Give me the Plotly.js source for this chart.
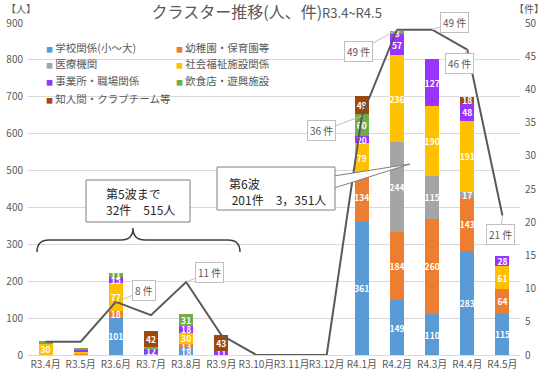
<!DOCTYPE html>
<html>
<head>
<meta charset="utf-8">
<script src="https://cdn.plot.ly/plotly-3.0.1.min.js"></script>
<style>html,body{margin:0;padding:0;background:#fff;}#chart{width:550px;height:381px;}</style>
</head>
<body>
<div id="chart"></div>
<script>
const categories = ['R3.4月','R3.5月','R3.6月','R3.7月','R3.8月','R3.9月','R3.10月','R3.11月','R3.12月','R4.1月','R4.2月','R4.3月','R4.4月','R4.5月'];
const seriesNames = ['学校関係(小～大)','幼稚園・保育園等','医療機関','社会福祉施設関係','事業所・職場関係','飲食店・遊興施設','知人間・クラブチーム等'];
const school  = [0,0,101,4,18,0,0,0,0,361,149,110,283,115];
const kinder  = [0,4,18,0,13,0,0,0,0,134,184,260,143,64];
const medical = [0,0,0,0,0,0,0,0,0,0,244,115,17,0];
const welfare = [30,4,77,0,30,0,0,0,0,79,236,190,191,61];
const office  = [0,5,15,12,18,11,0,0,0,20,57,127,48,28];
const food    = [7,6,11,7,31,0,0,0,0,60,8,0,0,0];
const friends = [0,0,0,42,0,43,0,0,0,49,0,0,18,0];
const cases   = [2,2,8,6,11,3,0,0,0,36,49,49,46,21];
const caseUnit = '件';
const wave5Text = '第5波まで<br>32件　515人';
const wave6Text = '第6波<br> 201件　3，351人';

const colors = ['#5B9BD5','#ED7D31','#A5A5A5','#FFC000','#9933FF','#70AD47','#9E480E'];
const seriesData = [school, kinder, medical, welfare, office, food, friends];
const FONT = '"Noto Sans CJK JP", "Noto Sans", sans-serif';
const GREY = '#595959';

const traces = seriesData.map((vals, i) => ({
  type: 'bar',
  name: seriesNames[i],
  x: categories,
  y: vals,
  marker: {color: colors[i]},
  text: vals.map(v => v >= 8 ? String(v) : ''),
  textposition: 'inside',
  insidetextanchor: 'middle',
  textangle: 0,
  constraintext: 'none',
  textfont: {color: '#ffffff', size: 8.5, family: FONT, weight: 700},
  showlegend: false,
  hoverinfo: 'skip'
}));
traces.push({
  type: 'scatter', mode: 'lines', x: categories, y: cases, yaxis: 'y2',
  line: {color: '#595959', width: 2}, showlegend: false, hoverinfo: 'skip'
});

// plot-area geometry (pixels) for paper conversions of decorations
const L = 28, R = 520, T = 23, B = 355;
const px = x => (x - L) / (R - L);
const py = y => (B - y) / (B - T);

const annotations = [];
// legend (two columns)
const legPos = [[44,47],[174,47],[44,64],[174,64],[44,81],[174,81],[44,98]];
seriesNames.forEach((n, i) => {
  annotations.push({
    xref: 'paper', yref: 'paper', x: px(legPos[i][0]), y: py(legPos[i][1]),
    xanchor: 'left', yanchor: 'middle', showarrow: false,
    text: '<span style="color:' + colors[i] + ';font-size:7px">■</span> ' + n,
    font: {size: 10.5, color: GREY, family: FONT}
  });
});
// unit labels
annotations.push({xref:'paper', yref:'paper', x: px(4), y: py(8), xanchor:'left', yanchor:'middle', showarrow:false, text:'【人】', font:{size:10,color:GREY,family:FONT}});
annotations.push({xref:'paper', yref:'paper', x: px(546), y: py(8), xanchor:'right', yanchor:'middle', showarrow:false, text:'【件】', font:{size:10,color:GREY,family:FONT}});

// line data labels
const labelOffsets = {2:[28,-11], 4:[23,-9], 9:[-40,15], 10:[-39,22], 11:[22,-7], 12:[-8,14], 13:[-2,19]};
Object.keys(labelOffsets).forEach(k => {
  const i = +k;
  annotations.push({
    xref: 'x', yref: 'y2', x: categories[i], y: cases[i],
    ax: labelOffsets[k][0], ay: labelOffsets[k][1],
    showarrow: true, arrowhead: 0, arrowwidth: 1, arrowcolor: '#BFBFBF', standoff: 0,
    text: cases[i] + ' ' + caseUnit, bgcolor: '#ffffff', bordercolor: '#BFBFBF', borderwidth: 1, borderpad: 2,
    font: {size: 10, color: GREY, family: FONT}
  });
});
// callout texts
annotations.push({xref:'paper', yref:'paper', x: px(104), y: py(201), xanchor:'left', yanchor:'middle', showarrow:false, align:'left', text: wave5Text, font:{size:12,color:'#262626',family:FONT}});
annotations.push({xref:'paper', yref:'paper', x: px(227), y: py(191), xanchor:'left', yanchor:'middle', showarrow:false, align:'left', text: wave6Text, font:{size:12,color:'#262626',family:FONT}});

const P = (x, y) => px(x).toFixed(4) + ',' + py(y).toFixed(4);
const shapes = [
  {type:'rect', xref:'paper', yref:'paper', x0: px(86), x1: px(190), y0: py(222), y1: py(180), line:{color:'#7F7F7F', width:1}, fillcolor:'#ffffff', layer:'above'},
  {type:'path', xref:'paper', yref:'paper', path: 'M' + P(334,176) + ' L' + P(410,164) + ' L' + P(334,188) + ' Z', line:{color:'#7F7F7F', width:1}, fillcolor:'#ffffff', layer:'above'},
  {type:'rect', xref:'paper', yref:'paper', x0: px(217), x1: px(335), y0: py(210), y1: py(167), line:{color:'#7F7F7F', width:1}, fillcolor:'#ffffff', layer:'above'},
  {type:'path', xref:'paper', yref:'paper', path: 'M' + P(37,252) + ' Q' + P(37,240) + ' ' + P(49,240) + ' L' + P(121,240) + ' Q' + P(133,240) + ' ' + P(133,228) + ' Q' + P(133,240) + ' ' + P(145,240) + ' L' + P(228,240) + ' Q' + P(240,240) + ' ' + P(240,252), line:{color:'#404040', width:1.5}, layer:'above'}
];

const layout = {
  width: 550, height: 381,
  margin: {l: L, r: 550 - R, t: T, b: 381 - B, pad: 0},
  paper_bgcolor: '#ffffff', plot_bgcolor: '#ffffff',
  font: {family: FONT, color: GREY},
  title: {text: 'クラスター推移(人、件)<span style="font-size:13px">R3.4~R4.5</span>', x: 0.485, xanchor: 'center', y: 1 - 12/381, yanchor: 'middle', font: {size: 16, color: GREY, family: FONT}},
  barmode: 'stack', bargap: 0.6,
  xaxis: {type: 'category', tickangle: 0, tickfont: {size: 10, color: GREY, family: FONT}, showline: true, linecolor: '#D9D9D9', ticks: '', showgrid: false},
  yaxis: {range: [0, 900], dtick: 100, gridcolor: '#D9D9D9', zeroline: false, tickfont: {size: 10, color: GREY, family: FONT}, ticks: '', ticklabelstandoff: 4},
  yaxis2: {range: [0, 50], dtick: 5, overlaying: 'y', side: 'right', showgrid: false, zeroline: false, tickfont: {size: 10, color: GREY, family: FONT}, ticks: '', ticklabelstandoff: 4},
  annotations: annotations,
  shapes: shapes,
  showlegend: false
};
Plotly.newPlot('chart', traces, layout, {displayModeBar: false, staticPlot: true});
</script>
</body>
</html>
